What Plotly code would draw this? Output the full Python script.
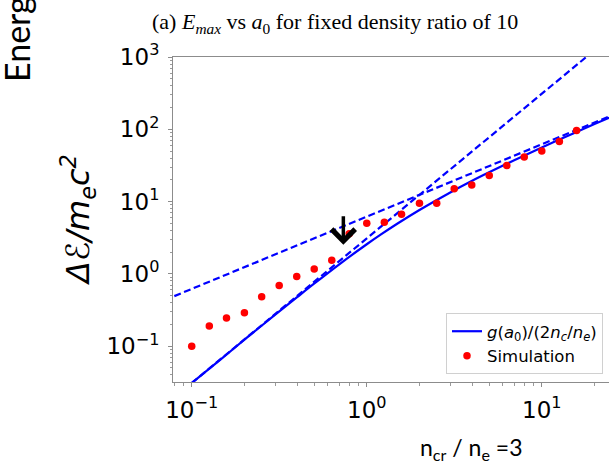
import math
import plotly.graph_objects as go

# ---------------- data ----------------
sim_a0 = [0.1, 0.126, 0.158, 0.2, 0.251, 0.316, 0.398, 0.501, 0.631, 0.794,
          1.0, 1.26, 1.58, 2.0, 2.51, 3.16, 3.98, 5.01, 6.31, 7.94, 10.0, 12.6, 15.8]
sim_E = [0.10, 0.19, 0.245, 0.29, 0.485, 0.69, 0.92, 1.17, 1.54, 3.6,
         5.0, 5.2, 6.7, 9.5, 9.5, 15.0, 17.0, 23.0, 31.5, 41.5, 50.0, 68.0, 96.0]

theory_a0 = [0.1, 0.15, 0.2, 0.3, 0.4, 0.5, 0.7, 1.0, 1.2, 1.5, 2.0, 3.0, 4.0,
             5.0, 7.0, 10.0, 15.0, 20.0, 25.0]
theory_E = [0.031, 0.069, 0.123, 0.273, 0.477, 0.732, 1.37, 2.57, 3.49, 4.98,
            7.66, 13.4, 19.4, 25.4, 37.6, 56.1, 87.0, 118.0, 149.0]

# asymptotes (dashed)
linear_a0 = [0.07, 25.0]
linear_E = [0.434, 155.0]
quad_a0 = [0.1, 18.0]
quad_E = [0.031, 1004.0]

x_tickvals = [0.1, 1, 10]
x_ticktext = ["10<sup>\u22121</sup>", "10<sup>0</sup>", "10<sup>1</sup>"]
y_tickvals = [0.1, 1, 10, 100, 1000]
y_ticktext = ["10<sup>\u22121</sup>", "10<sup>0</sup>", "10<sup>1</sup>",
              "10<sup>2</sup>", "10<sup>3</sup>"]
x_minor = [0.08, 0.09, 0.2, 0.3, 0.4, 0.5, 0.6, 0.7, 0.8, 0.9,
           2, 3, 4, 5, 6, 7, 8, 9, 20]
y_minor = [0.04, 0.05, 0.06, 0.07, 0.08, 0.09, 0.2, 0.3, 0.4, 0.5, 0.6, 0.7, 0.8, 0.9,
           2, 3, 4, 5, 6, 7, 8, 9, 20, 30, 40, 50, 60, 70, 80, 90,
           200, 300, 400, 500, 600, 700, 800, 900]

arrow_a0 = 0.735
arrow_E = 2.54

# ---------------- layout geometry ----------------
W, H = 609, 463
L, T, B, R = 173, 57, 81, 0
PW, PH = W - L - R, H - T - B


def px(x):
    return (x - L) / PW


def py(y):
    return (H - B - y) / PH


BLUE = "#0000ff"
fig = go.Figure()

fig.add_trace(go.Scatter(x=theory_a0, y=theory_E, mode="lines", line_shape="spline",
                         line=dict(color=BLUE, width=2.2),
                         name="<i>g</i>(<i>a</i><sub>0</sub>)/(2<i>n<sub>c</sub></i>/<i>n<sub>e</sub></i>)"))
fig.add_trace(go.Scatter(x=linear_a0, y=linear_E, mode="lines",
                         line=dict(color=BLUE, width=2.2, dash="7px,3.5px"), showlegend=False))
fig.add_trace(go.Scatter(x=quad_a0, y=quad_E, mode="lines",
                         line=dict(color=BLUE, width=2.2, dash="7px,3.5px"), showlegend=False))
fig.add_trace(go.Scatter(x=sim_a0, y=sim_E, mode="markers",
                         marker=dict(color="#ff0000", size=7.5, line=dict(width=0)),
                         name="Simulation"))

axis_common = dict(type="log", showgrid=False, zeroline=False, showline=True,
                   linecolor="#8c8c8c", linewidth=1, ticks="outside", ticklen=4,
                   tickcolor="#8c8c8c", tickwidth=1,
                   tickfont=dict(family="DejaVu Sans", size=23, color="black"))

fig.update_xaxes(range=[-1.107, 1.384], tickvals=x_tickvals, ticktext=x_ticktext,
                 mirror=True, ticklabelstandoff=3,
                 minor=dict(tickvals=x_minor, ticks="outside", ticklen=2.5,
                            tickcolor="#9a9a9a", tickwidth=1, showgrid=False),
                 **axis_common)
fig.update_yaxes(range=[-1.495, 3.0], tickvals=y_tickvals, ticktext=y_ticktext,
                 mirror=False, ticklabelstandoff=4,
                 minor=dict(tickvals=y_minor, ticks="outside", ticklen=2.5,
                            tickcolor="#9a9a9a", tickwidth=1, showgrid=False),
                 **axis_common)

annotations = [
    dict(xref="paper", yref="paper", x=px(335), y=py(23), xanchor="center", yanchor="middle",
         text="(a) <i>E<sub>max</sub></i> vs <i>a</i><sub>0</sub> for fixed density ratio of 10",
         showarrow=False, font=dict(family="Liberation Serif", size=22, color="black")),
    dict(xref="paper", yref="paper", x=px(17), y=py(84), xanchor="center", yanchor="bottom",
         text="Energy", textangle=-90, showarrow=False,
         font=dict(family="Lato", size=34, color="black")),
    dict(xref="paper", yref="paper", x=px(78), y=py(220), xanchor="center", yanchor="middle",
         text="<i>\u0394\u2130/m<sub>e</sub>c<sup>2</sup></i>", textangle=-90, showarrow=False,
         font=dict(family="DejaVu Sans", size=32, color="black")),
    dict(xref="paper", yref="paper", x=px(471), y=py(448), xanchor="center", yanchor="middle",
         text="n<sub>cr</sub> / n<sub>e</sub> =3", showarrow=False,
         font=dict(family="Lato", size=23, color="black")),
    dict(xref="x", yref="y", x=math.log10(arrow_a0), y=math.log10(arrow_E), text="",
         showarrow=True, ax=0, ay=-30, arrowhead=4, arrowsize=1.3, arrowwidth=3.5,
         arrowcolor="black", standoff=0),
]

fig.update_layout(
    width=W, height=H,
    margin=dict(l=L, r=R, t=T, b=B, pad=0),
    paper_bgcolor="white", plot_bgcolor="white",
    annotations=annotations,
    legend=dict(x=px(603), y=py(374), xanchor="right", yanchor="bottom",
                bgcolor="white", bordercolor="#d0d0d0", borderwidth=1,
                font=dict(family="DejaVu Sans", size=16.5, color="black"),
                tracegroupgap=0, itemwidth=30),
    showlegend=True,
)

fig.write_html("out.html")
